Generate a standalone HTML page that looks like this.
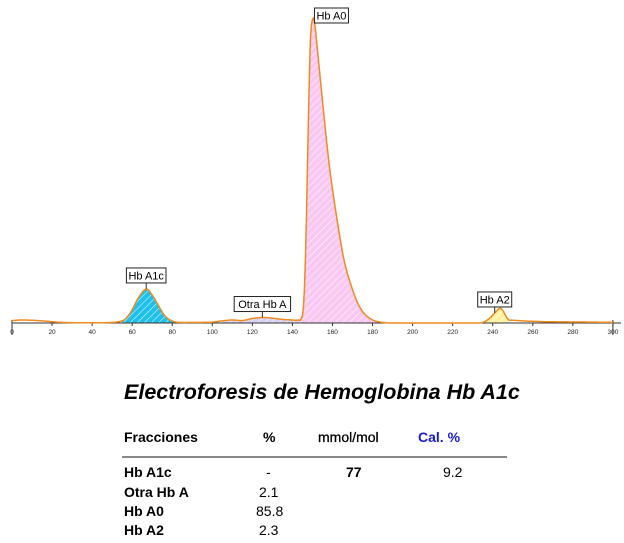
<!DOCTYPE html>
<html><head><meta charset="utf-8"><style>
body{margin:0;background:#fff;width:624px;height:543px;overflow:hidden;font-family:"Liberation Sans",Arial,sans-serif}
svg{position:absolute;left:0;top:0}
.t{position:absolute;font-size:14px;font-weight:bold;color:#000;white-space:nowrap}
</style></head><body>
<svg width="624" height="360">
<defs>
<pattern id="hc" width="5" height="5" patternUnits="userSpaceOnUse" patternTransform="rotate(45)"><rect width="5" height="5" fill="#1ec0ec"/><line x1="0" y1="0" x2="0" y2="5" stroke="#fff" stroke-width="1.2" opacity=".8"/></pattern>
<pattern id="hp" width="5" height="5" patternUnits="userSpaceOnUse" patternTransform="rotate(45)"><rect width="5" height="5" fill="#f9c8f2"/><line x1="0" y1="0" x2="0" y2="5" stroke="#fff" stroke-width="1.2" opacity=".8"/></pattern>
<pattern id="hl" width="5" height="5" patternUnits="userSpaceOnUse" patternTransform="rotate(45)"><rect width="5" height="5" fill="#d8d0f0"/><line x1="0" y1="0" x2="0" y2="5" stroke="#fff" stroke-width="1.2" opacity=".8"/></pattern>
<pattern id="hy" width="5" height="5" patternUnits="userSpaceOnUse" patternTransform="rotate(45)"><rect width="5" height="5" fill="#fff3a0"/><line x1="0" y1="0" x2="0" y2="5" stroke="#fff" stroke-width="1.2" opacity=".8"/></pattern>
</defs>
<g id="fills"></g>
<g id="axis"></g>
<path id="trace" fill="none" stroke="#f08a1c" stroke-width="1.5"/>
<g id="labels"></g>
</svg>
<div class="t" style="left:124px;top:380px;font-size:21.5px;font-style:italic;">Electroforesis de Hemoglobina Hb A1c</div>
<div class="t" style="left:124px;top:429px">Fracciones</div>
<div class="t" style="left:263px;top:429px">%</div>
<div class="t" style="left:318px;top:429px;font-weight:normal;-webkit-text-stroke:0.3px #000">mmol/mol</div>
<div class="t" style="left:418px;top:429px;color:#1a1adc">Cal. %</div>
<div style="position:absolute;left:122px;top:456px;width:385px;height:2px;background:#888"></div>
<div class="t" style="left:124px;top:464px">Hb A1c</div>
<div class="t" style="left:266px;top:464px;font-weight:normal">-</div>
<div class="t" style="left:346px;top:464px">77</div>
<div class="t" style="left:443px;top:464px;font-weight:normal">9.2</div>
<div class="t" style="left:124px;top:484px">Otra Hb A</div>
<div class="t" style="left:259px;top:484px;font-weight:normal">2.1</div>
<div class="t" style="left:124px;top:503px">Hb A0</div>
<div class="t" style="left:256px;top:503px;font-weight:normal">85.8</div>
<div class="t" style="left:124px;top:522px">Hb A2</div>
<div class="t" style="left:259px;top:522px;font-weight:normal">2.3</div>
<script>
const xs=[0,5,15,25,40,50,55,57,60,63,67,70,73,76,79,82,90,100,105,110,115,120,125,130,135,140,143,145,146,147,148,149,150,151,152,155,158,160,163,166,170,173,176,180,185,190,230,235,238,241,244,246,248,300];
const ys=[0.8,1,0.7,0.2,0.1,0.2,0.7,1.6,4.3,8.2,11.2,9.2,5.9,2.6,1,0.3,0.2,0.3,0.7,1,0.8,1.5,1.8,1.6,1.2,1,1,2.3,11,34,67,93,100,99,93,73,54,44,31,20,11,6,3,1,0.2,0,0,0.2,1.3,3.3,4.9,3,1,0.2,0];
const ticks=[0,20,40,60,80,100,120,140,160,180,200,220,240,260,280,300];
const peakNames=["Hb A1c","Otra Hb A","Hb A0","Hb A2"];
const peakStart=[55,105,143,234];
const peakEnd=[82,143,185,248];
const peakPos=[67,125,150,241];
const fillIds=["hc","hl","hp","hy"];
const X=v=>12+v*2.003, Y=v=>323-v*3.04;
const NS="http://www.w3.org/2000/svg";
function mk(t,a,p){const e=document.createElementNS(NS,t);for(const k in a)e.setAttribute(k,a[k]);p.appendChild(e);return e;}
// monotone-ish cubic (Catmull-Rom) sampled points
const dense=[];
for(let i=0;i<xs.length-1;i++){const i0=Math.max(i-1,0),i3=Math.min(i+2,xs.length-1);
 const h=xs[i+1]-xs[i];
 const m1=(ys[i+1]-ys[i0])/(xs[i+1]-xs[i0]||1), m2=(ys[i3]-ys[i])/(xs[i3]-xs[i]||1);
 const n=Math.max(2,Math.ceil(h));
 for(let s=0;s<n;s++){const t=s/n,t2=t*t,t3=t2*t;
  const y=(2*t3-3*t2+1)*ys[i]+(t3-2*t2+t)*h*m1+(-2*t3+3*t2)*ys[i+1]+(t3-t2)*h*m2;
  dense.push([xs[i]+t*h,Math.max(0,y)]);}}
dense.push([xs[xs.length-1],ys[ys.length-1]]);
function yAt(x){for(let i=0;i<dense.length-1;i++)if(x>=dense[i][0]&&x<=dense[i+1][0]){const f=(x-dense[i][0])/((dense[i+1][0]-dense[i][0])||1);return dense[i][1]+f*(dense[i+1][1]-dense[i][1]);}return 0;}
document.getElementById('trace').setAttribute('d',dense.map((p,i)=>(i?'L':'M')+X(p[0]).toFixed(1)+' '+Y(p[1]).toFixed(1)).join(''));
const fg=document.getElementById('fills');
peakNames.forEach((n,k)=>{let d='M'+X(peakStart[k])+' '+Y(0);const pts=[peakStart[k],...dense.map(p=>p[0]).filter(x=>x>peakStart[k]&&x<peakEnd[k]),peakEnd[k]];pts.forEach(x=>d+='L'+X(x).toFixed(1)+' '+Y(yAt(x)).toFixed(1));d+='L'+X(peakEnd[k])+' '+Y(0)+'Z';
const p=mk('path',{d:d,fill:'url(#'+fillIds[k]+')'},fg);

});
const ax=document.getElementById('axis');
const al=mk('line',{x1:X(0),x2:621,y1:Y(0),y2:Y(0),stroke:'#333','stroke-width':1},ax);


mk('line',{x1:X(0),x2:X(0),y1:Y(0)-3,y2:Y(0)+12,stroke:'#333'},ax);
mk('line',{x1:X(300),x2:X(300),y1:Y(0)-3,y2:Y(0)+12,stroke:'#333'},ax);
ticks.forEach(t=>{mk('line',{x1:X(t),x2:X(t),y1:Y(0),y2:Y(0)+3,stroke:'#333'},ax);
const tx=mk('text',{x:X(t),y:Y(0)+11,'font-size':6.5,'text-anchor':'middle',fill:'#222','font-family':'Liberation Sans'},ax);tx.textContent=t;

});
const lg=document.getElementById('labels');
peakNames.forEach((n,k)=>{const px=X(peakPos[k]),py=Y(yAt(peakPos[k]));
const w=n.length*5.6+6;const left=k==2?px+2:px-w/2;const top=k==2?py-11:py-21;
if(k!=2)mk('line',{x1:px,x2:px,y1:top+15,y2:py,stroke:'#333'},lg);
const r=mk('rect',{x:left,y:top,width:w,height:15,fill:'#fff',stroke:'#222','stroke-width':1},lg);


const t=mk('text',{x:left+w/2,y:top+11.5,'font-size':11,'text-anchor':'middle','font-family':'Liberation Sans'},lg);t.textContent=n;

});
</script>
</body></html>
